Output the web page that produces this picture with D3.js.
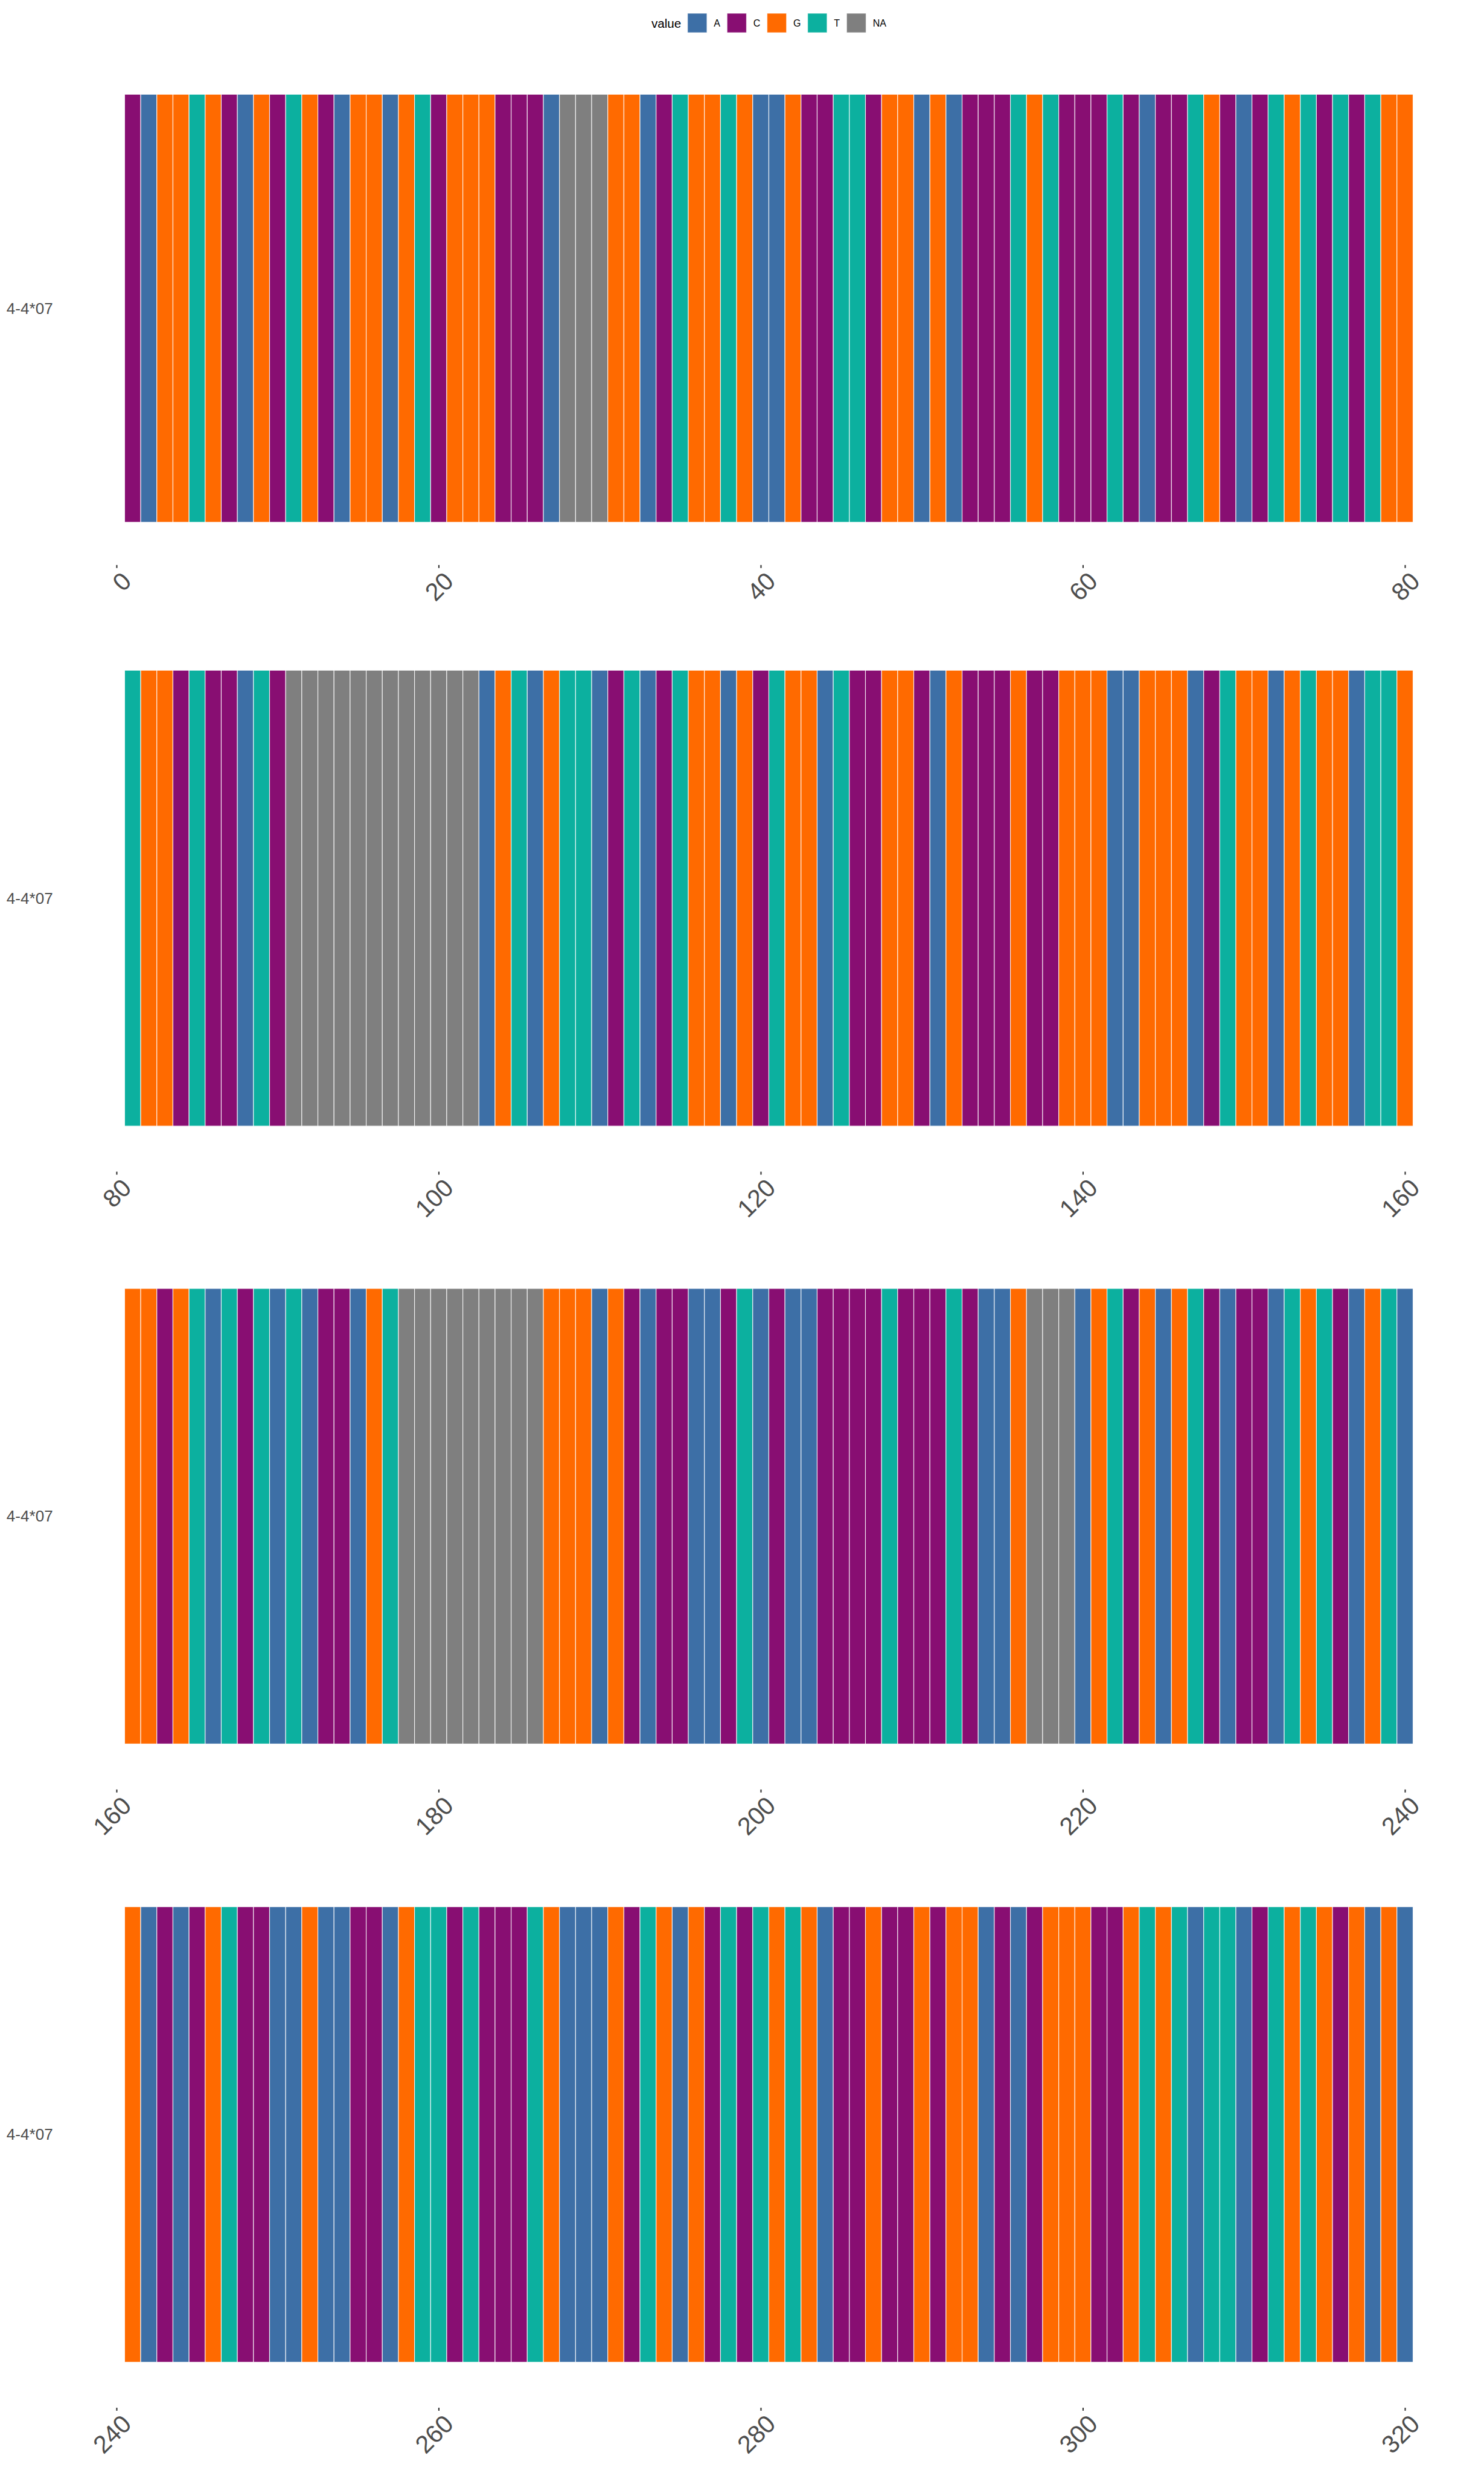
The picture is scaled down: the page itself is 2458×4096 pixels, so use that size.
<!DOCTYPE html>
<html><head><meta charset="utf-8">
<script src="https://cdn.jsdelivr.net/npm/d3@7"></script>
<style>html,body{margin:0;padding:0;background:#fff;} svg{display:block;}</style>
</head><body><div id="chart"></div>
<script>
// ---------------- data ----------------
const categories = ["A", "C", "G", "T", "NA"];
const categoryColors = ["#3D6FA6", "#880E72", "#FF6A00", "#0CB09F", "#7F7F7F"];
const legendTitle = "value";
const sampleLabel = "4-4*07";
const basesPerRow = 80;
const panelTicks = [[0, 20, 40, 60, 80], [80, 100, 120, 140, 160], [160, 180, 200, 220, 240], [240, 260, 280, 300, 320]];

const bases1 = ["C","A","G","G","T","G","C","A","G","C",
  "T","G","C","A","G","G","A","G","T","C",
  "G","G","G","C","C","C","A","NA","NA","NA",
  "G","G","A","C","T","G","G","T","G","A",
  "A","G","C","C","T","T","C","G","G","A",
  "G","A","C","C","C","T","G","T","C","C",
  "C","T","C","A","C","C","T","G","C","A",
  "C","T","G","T","C","T","C","T","G","G"];
const bases2 = ["T","G","G","C","T","C","C","A","T","C",
  "NA","NA","NA","NA","NA","NA","NA","NA","NA","NA","NA","NA",
  "A","G","T","A","G","T","T","A",
  "C","T","A","C","T","G","G","A","G","C",
  "T","G","G","A","T","C","C","G","G","C",
  "A","G","C","C","C","G","C","C","G","G",
  "G","A","A","G","G","G","A","C","T","G",
  "G","A","G","T","G","G","A","T","T","G"];
const bases3 = ["G","G","C","G","T","A","T","C","T","A",
  "T","A","C","C","A","G","T",
  "NA","NA","NA","NA","NA","NA","NA","NA","NA",
  "G","G","G","A","G","C","A","C","C","A",
  "A","C","T","A",
  "C","A","A","C","C","C","C","T","C","C",
  "C","T","C","A","A","G","NA","NA","NA","A",
  "G","T","C","G","A","G","T","C","A","C",
  "C","A","T","G","T","C","A","G","T","A"];
const bases4 = ["G","A","C","A","C","G","T","C","C","A",
  "A","G","A","A","C","C","A","G","T","T",
  "C","T","C","C","C","T","G",
  "A","A","A","G","C","T","G","A","G","C","T","C","T",
  "G","T","G","A","C","C","G","C","C","G",
  "C","G","G","A","C","A","C","G","G","G",
  "C","C","G","T","G","T","A","T","T","A",
  "C","T","G","T","G","C","G","A","G","A"];

// ---------------- layout ----------------
const W = 3456, H = 5760;
const plotLeft = 290, plotRight = 3291;
const panelFrames = [[120, 1316], [1455, 2729], [2895, 4168], [4335, 5608]];
const fontFamily = "'Liberation Sans', Arial, Helvetica, sans-serif";

const svg = d3.select("#chart").append("svg")
  .attr("width", 2458).attr("height", 4096)
  .attr("viewBox", `0 0 ${W} ${H}`);
svg.append("rect").attr("width", W).attr("height", H).attr("fill", "#fff");

const color = d3.scaleOrdinal().domain(categories).range(categoryColors);
const panels = [bases1, bases2, bases3, bases4];

panels.forEach((bases, p) => {
  const start = p * basesPerRow;
  const x = d3.scaleLinear().domain([start + 0.5, start + basesPerRow + 0.5]).range([plotLeft, plotRight]);
  const y = d3.scaleLinear().domain([0.4, 1.6]).range([panelFrames[p][1], panelFrames[p][0]]);
  const g = svg.append("g");

  g.selectAll("rect.tile")
    .data(bases.map((b, i) => ({ pos: start + i + 1, base: b })))
    .join("rect").attr("class", "tile")
    .attr("x", d => x(d.pos - 0.5))
    .attr("width", d => x(d.pos + 0.5) - x(d.pos - 0.5))
    .attr("y", y(1.5))
    .attr("height", y(0.5) - y(1.5))
    .attr("fill", d => color(d.base))
    .attr("stroke", "#ffffff").attr("stroke-width", 1.6).attr("stroke-opacity", 0.85);

  g.append("text")
    .attr("x", 15).attr("y", y(1))
    .attr("dominant-baseline", "central")
    .attr("font-family", fontFamily).attr("font-size", 36.7)
    .attr("fill", "#4D4D4D")
    .text(sampleLabel);

  const axis = d3.axisBottom(x).tickValues(panelTicks[p]).tickSize(7).tickFormat(d3.format("d"));
  const ag = g.append("g")
    .attr("transform", `translate(0,${panelFrames[p][1]})`)
    .call(axis)
    .attr("font-family", fontFamily).attr("font-size", 58);
  ag.select(".domain").remove();
  ag.selectAll(".tick line").attr("stroke", "#333333").attr("stroke-width", 3);
  ag.selectAll(".tick text")
    .attr("x", null).attr("y", null).attr("dy", null)
    .attr("fill", "#4D4D4D")
    .attr("text-anchor", "end")
    .attr("dominant-baseline", "hanging")
    .attr("transform", "translate(8,12) rotate(-45)");
});

// ---------------- legend ----------------
const legend = svg.append("g");
const keyW = 45, keyH = 45, keyY = 31;
const title = legend.append("text")
  .attr("x", 0).attr("y", keyY + keyH / 2)
  .attr("dominant-baseline", "central")
  .attr("font-family", fontFamily).attr("font-size", 29).attr("fill", "#000")
  .text(legendTitle);
let cx = title.node().getComputedTextLength() + 15;
categories.forEach(c => {
  legend.append("rect")
    .attr("x", cx).attr("y", keyY).attr("width", keyW).attr("height", keyH)
    .attr("fill", color(c)).attr("stroke", "#ffffff").attr("stroke-width", 1.5).attr("stroke-opacity", 0.6);
  const t = legend.append("text")
    .attr("x", cx + keyW + 16).attr("y", keyY + keyH / 2)
    .attr("dominant-baseline", "central")
    .attr("font-family", fontFamily).attr("font-size", 22.5).attr("fill", "#000")
    .text(c);
  cx += keyW + 16 + t.node().getComputedTextLength() + 16;
});
const legendWidth = cx - 16;
legend.attr("transform", `translate(${(plotLeft + plotRight) / 2 - legendWidth / 2},0)`);
</script>
</body></html>
